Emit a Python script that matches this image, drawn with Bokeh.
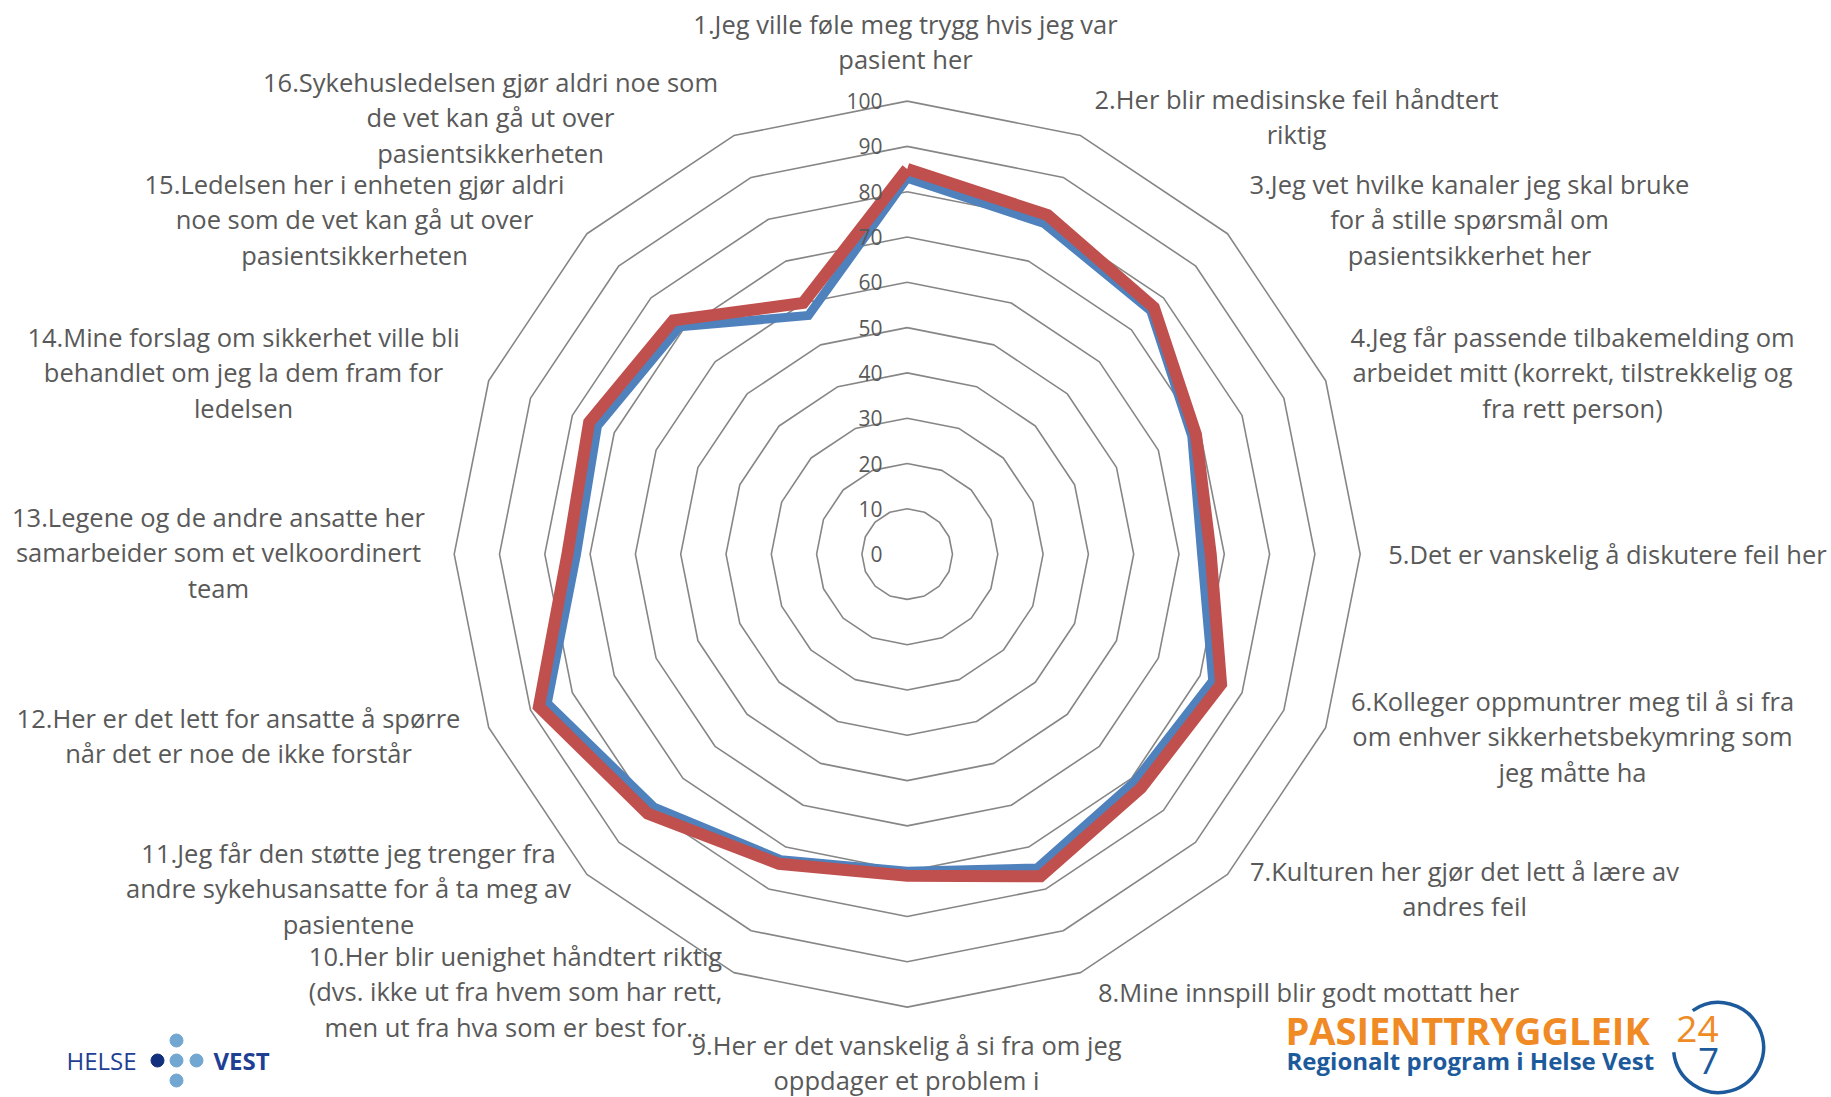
import numpy as np
from bokeh.plotting import figure
from bokeh.models import Range1d
from bokeh.embed import file_html
from bokeh.resources import INLINE
from bokeh.core.properties import value

# ---------------- data ----------------
questions = [
    ["1.Jeg ville føle meg trygg hvis jeg var", "pasient her"],
    ["2.Her blir medisinske feil håndtert", "riktig"],
    ["3.Jeg vet hvilke kanaler jeg skal bruke", "for å stille spørsmål om", "pasientsikkerhet her"],
    ["4.Jeg får passende tilbakemelding om", "arbeidet mitt (korrekt, tilstrekkelig og", "fra rett person)"],
    ["5.Det er vanskelig å diskutere feil her"],
    ["6.Kolleger oppmuntrer meg til å si fra", "om enhver sikkerhetsbekymring som", "jeg måtte ha"],
    ["7.Kulturen her gjør det lett å lære av", "andres feil"],
    ["8.Mine innspill blir godt mottatt her"],
    ["9.Her er det vanskelig å si fra om jeg", "oppdager et problem i"],
    ["10.Her blir uenighet håndtert riktig", "(dvs. ikke ut fra hvem som har rett,", "men ut fra hva som er best for..."],
    ["11.Jeg får den støtte jeg trenger fra", "andre sykehusansatte for å ta meg av", "pasientene"],
    ["12.Her er det lett for ansatte å spørre", "når det er noe de ikke forstår"],
    ["13.Legene og de andre ansatte her", "samarbeider som et velkoordinert", "team"],
    ["14.Mine forslag om sikkerhet ville bli", "behandlet om jeg la dem fram for", "ledelsen"],
    ["15.Ledelsen her i enheten gjør aldri", "noe som de vet kan gå ut over", "pasientsikkerheten"],
    ["16.Sykehusledelsen gjør aldri noe som", "de vet kan gå ut over", "pasientsikkerheten"],
]
blue_values = [83, 79, 76, 68, 65, 73, 71, 75, 70, 73, 79, 86, 73, 74, 71, 57]
red_values = [85, 81, 77, 69, 67, 75, 73, 77, 71, 74, 81, 88, 75, 76, 73, 60]
levels = [10, 20, 30, 40, 50, 60, 70, 80, 90, 100]
tick_labels = ["0", "10", "20", "30", "40", "50", "60", "70", "80", "90", "100"]
tick_values = [0, 10, 20, 30, 40, 50, 60, 70, 80, 90, 100]

# ---------------- layout ----------------
W, H = 1831, 1097
CX, CY = 906.7, 553.6      # chart centre on the page (px)
S = 4.53                    # px per value unit
LINE_H = 35.5

# label anchors (centre of first line, page px)
label_pos = [
    (905, 23), (1296, 98), (1469, 183), (1572, 336), (1607, 553),
    (1572, 700), (1464, 870), (1308, 991), (906, 1044), (515, 955),
    (348, 852), (238, 717), (218, 516), (243, 336), (354, 183), (490, 81),
]

def dx(px):
    return (px - CX) / S

def dy(py):
    return (CY - py) / S

p = figure(width=W, height=H, output_backend="svg", toolbar_location=None,
           x_range=Range1d(dx(0), dx(W)), y_range=Range1d(dy(H), dy(0)),
           x_axis_location=None, y_axis_location=None, min_border=0)
p.grid.visible = False
p.outline_line_color = None
p.background_fill_color = "white"
p.border_fill_color = "white"

n = len(questions)
theta = np.pi / 2 - np.arange(n) * 2 * np.pi / n

FONT = value("Open Sans")
GREY_TXT = "#595959"

# grid polygons
for lv in levels:
    xs = list(lv * np.cos(theta)) + [lv * np.cos(theta[0])]
    ys = list(lv * np.sin(theta)) + [lv * np.sin(theta[0])]
    p.line(xs, ys, line_color="#868686", line_width=1.6)

# series
def closed(vals):
    v = np.array(vals, dtype=float)
    xs = list(v * np.cos(theta)) + [v[0] * np.cos(theta[0])]
    ys = list(v * np.sin(theta)) + [v[0] * np.sin(theta[0])]
    return xs, ys

bx, by = closed(blue_values)
p.line(bx, by, line_color="#4F81BD", line_width=9, line_join="miter")
rx, ry = closed(red_values)
p.line(rx, ry, line_color="#C0504D", line_width=12, line_join="miter")

# tick labels
p.text(x=[dx(882)] * len(tick_values), y=tick_values, text=tick_labels,
       text_align="right", text_baseline="middle", text_font=FONT,
       text_font_size="21px", text_color=GREY_TXT)

# question labels
for lines, (lx, ly) in zip(questions, label_pos):
    xs = [dx(lx)] * len(lines)
    ys = [dy(ly + i * LINE_H) for i in range(len(lines))]
    p.text(x=xs, y=ys, text=lines, text_align="center", text_baseline="middle",
           text_font=FONT, text_font_size="25.5px", text_color=GREY_TXT)

# ---- Helse Vest logo ----
p.text(x=[dx(66)], y=[dy(1060)], text=["HELSE"], text_align="left", text_baseline="middle",
       text_font=value("Open Sans"), text_font_size="24px", text_color="#1E3F93")
p.scatter(x=[dx(157)], y=[dy(1060)], size=13, color="#13307F")
p.scatter(x=[dx(176), dx(176), dx(176), dx(196)], y=[dy(1040), dy(1060), dy(1080), dy(1060)],
          size=13, color="#72A7D1")
p.text(x=[dx(213)], y=[dy(1060)], text=["VEST"], text_align="left", text_baseline="middle",
       text_font=value("Open Sans"), text_font_size="24px", text_font_style="bold",
       text_color="#1E3F93")

# ---- Pasienttryggleik logo ----
p.text(x=[dx(1285)], y=[dy(1029)], text=["PASIENTTRYGGLEIK"], text_align="left",
       text_baseline="middle", text_font=value("Open Sans"), text_font_size="38px",
       text_font_style="bold", text_color="#F08A24")
p.text(x=[dx(1286)], y=[dy(1060)], text=["Regionalt program i Helse Vest"], text_align="left",
       text_baseline="middle", text_font=value("Open Sans"), text_font_size="24px",
       text_font_style="bold", text_color="#1C5A9C")
p.text(x=[dx(1697)], y=[dy(1028)], text=["24"], text_align="center",
       text_baseline="middle", text_font=value("Open Sans"), text_font_size="37px",
       text_color="#F08A24")
p.text(x=[dx(1708)], y=[dy(1060)], text=["7"], text_align="center",
       text_baseline="middle", text_font=value("Open Sans"), text_font_size="37px",
       text_color="#1C5A9C")
p.arc(x=[dx(1718)], y=[dy(1047)], radius=45, radius_units="screen",
      start_angle=np.deg2rad(186), end_angle=np.deg2rad(125), direction="anticlock",
      line_color="#1C5A9C", line_width=3.5)

open("out.html", "w").write(file_html(p, INLINE))
